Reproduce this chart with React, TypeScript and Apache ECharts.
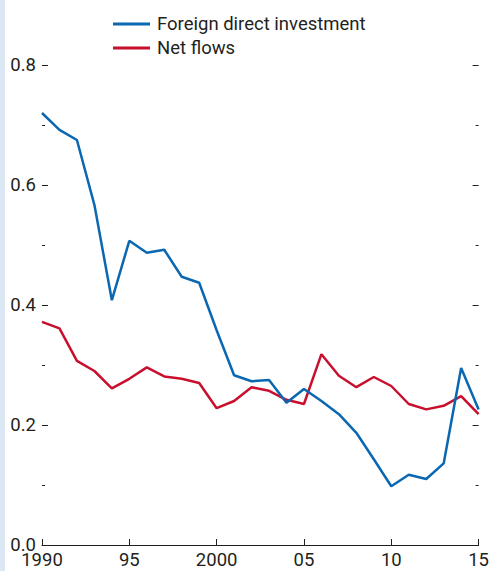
import React, { useEffect, useRef } from "react";
import * as echarts from "echarts";

const years = [1990, 1991, 1992, 1993, 1994, 1995, 1996, 1997, 1998, 1999, 2000, 2001, 2002, 2003, 2004, 2005, 2006, 2007, 2008, 2009, 2010, 2011, 2012, 2013, 2014, 2015];
const fdi = [0.72, 0.692, 0.675, 0.567, 0.408, 0.507, 0.487, 0.492, 0.447, 0.437, 0.358, 0.283, 0.273, 0.275, 0.237, 0.26, 0.24, 0.218, 0.187, 0.143, 0.098, 0.117, 0.11, 0.136, 0.295, 0.226];
const netFlows = [0.372, 0.361, 0.307, 0.29, 0.261, 0.277, 0.296, 0.281, 0.277, 0.27, 0.228, 0.24, 0.263, 0.257, 0.242, 0.235, 0.318, 0.282, 0.263, 0.28, 0.265, 0.235, 0.226, 0.232, 0.248, 0.218];
const seriesNames = ["Foreign direct investment", "Net flows"];
const xLabels: Record<number, string> = { 1990: "1990", 1995: "95", 2000: "2000", 2005: "05", 2010: "10", 2015: "15" };

const FONT = "Roboto, 'Liberation Sans', sans-serif";
const TXT = "#231f20";

export default function App() {
  const ref = useRef<HTMLDivElement>(null);
  useEffect(() => {
    document.body.style.margin = "0";
    document.body.style.overflow = "hidden";
    const chart = echarts.init(ref.current!, null, { renderer: "svg", width: 492, height: 571 });
    const tickStyle = { color: "#231f20", width: 1 };
    chart.setOption({
      animation: false,
      backgroundColor: "#ffffff",
      grid: { left: 42, right: 8, top: 65, bottom: 26, containLabel: false },
      legend: {
        orient: "vertical",
        left: 113,
        top: 12,
        padding: 0,
        icon: "rect",
        itemWidth: 37,
        itemHeight: 3,
        itemGap: 0,
        textStyle: { fontFamily: FONT, fontSize: 18.5, color: TXT, lineHeight: 24, padding: [0, 0, 0, 2] },
        data: seriesNames,
      },
      graphic: [
        { type: "rect", left: 0, top: 0, shape: { width: 5, height: 571 }, style: { fill: "#dde6f3" }, silent: true },
      ],
      xAxis: {
        type: "value",
        min: 1990,
        max: 2015,
        interval: 5,
        splitLine: { show: false },
        axisLine: { show: true, lineStyle: { color: "#231f20", width: 1 } },
        axisTick: { show: true, inside: true, length: 6, lineStyle: tickStyle },
        axisLabel: {
          fontFamily: FONT,
          fontSize: 18.5,
          color: TXT,
          margin: 5,
          formatter: (v: number) => xLabels[v] ?? "",
        },
      },
      yAxis: [
        {
          type: "value",
          min: 0,
          max: 0.8,
          interval: 0.2,
          position: "left",
          splitLine: { show: false },
          axisLine: { show: false },
          axisTick: { show: true, inside: true, length: 6, lineStyle: tickStyle },
          minorTick: { show: true, splitNumber: 2, length: 3, lineStyle: tickStyle },
          axisLabel: {
            fontFamily: FONT,
            fontSize: 18.5,
            color: TXT,
            margin: 6,
            formatter: (v: number) => v.toFixed(1),
          },
        },
        {
          type: "value",
          min: 0,
          max: 0.8,
          interval: 0.2,
          position: "right",
          splitLine: { show: false },
          axisLine: { show: false },
          axisTick: { show: true, inside: true, length: 6, lineStyle: tickStyle },
          minorTick: { show: true, splitNumber: 2, length: 3, lineStyle: tickStyle },
          axisLabel: { show: false },
        },
      ],
      series: [
        {
          name: seriesNames[0],
          type: "line",
          data: years.map((y, i) => [y, fdi[i]]),
          showSymbol: false,
          symbol: "none",
          lineStyle: { color: "#0a67b2", width: 2.5 },
          itemStyle: { color: "#0a67b2" },
          z: 3,
        },
        {
          name: seriesNames[1],
          type: "line",
          data: years.map((y, i) => [y, netFlows[i]]),
          showSymbol: false,
          symbol: "none",
          lineStyle: { color: "#c8102e", width: 2.5 },
          itemStyle: { color: "#c8102e" },
          z: 2,
        },
      ],
    });
    return () => chart.dispose();
  }, []);
  return <div ref={ref} style={{ position: "fixed", left: 0, top: 0, width: 492, height: 571 }} />;
}
